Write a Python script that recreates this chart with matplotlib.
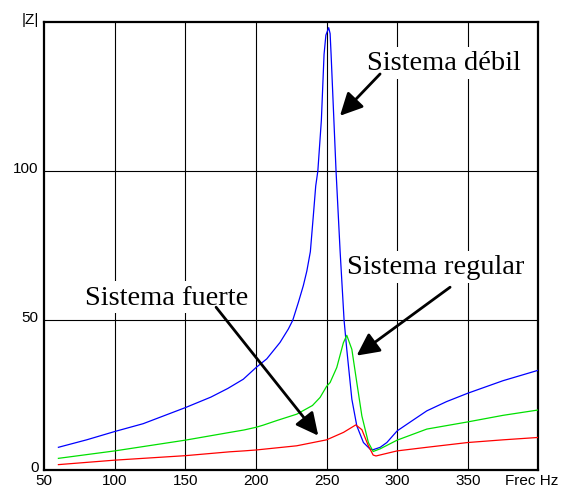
import matplotlib
matplotlib.use("Agg")
import matplotlib.pyplot as plt
import matplotlib.transforms as mtransforms

# ---- data ----
freq_debil = [60, 80, 100, 120, 150, 168, 180, 191, 200, 207.6, 217, 222.9, 226, 230, 233.5, 236,
              238.5, 240.6, 242.3, 243.8, 246.3, 248.2, 249.5, 251.5, 252.5, 253.2, 256.7, 259.6,
              262.4, 264.3, 267.9, 271.4, 276.1, 280.8, 283, 288, 292.7, 300, 310, 321, 335, 350,
              375, 400]
z_debil = [7.5, 10.0, 12.8, 15.4, 20.8, 24.3, 27.2, 30.3, 34.2, 37.1, 42.6, 47.1, 50, 56, 61.6, 66.5,
           73, 85, 95, 100, 117, 139, 145.5, 148, 146, 139, 100, 73,
           50, 40.3, 23.6, 14.7, 9.1, 6.9, 6.7, 7.5, 9.1, 13.0, 16.2, 19.7, 22.8, 25.6,
           29.8, 33.3]

freq_regular = [60, 100, 150, 181.6, 191.5, 200, 205, 215, 228.9, 240, 245.4, 250, 252.5, 257.2,
                261.9, 264.3, 267.9, 271.4, 275, 279.6, 283, 288, 300, 321, 350, 375, 400]
z_regular = [3.8, 6.3, 9.9, 12.5, 13.3, 14.2, 14.9, 16.5, 18.6, 21.5, 24.2, 27.9, 29.2, 34.2,
             42.5, 45, 40.3, 29.2, 18, 9.1, 6.1, 7.0, 9.9, 13.6, 16.0, 18.2, 20.0]

freq_fuerte = [60, 100, 150, 181.6, 191.5, 200, 228.8, 250, 262, 270.7, 275, 279.6, 283, 285, 300,
               321, 350, 375, 400]
z_fuerte = [1.7, 3.2, 4.7, 6.0, 6.3, 6.6, 8.0, 10.0, 12.5, 15.0, 13.4, 8.0, 4.9, 4.6, 6.3,
            7.5, 9.1, 10.0, 10.8]

x_ticks = [50, 100, 150, 200, 250, 300, 350, 400]
x_tick_labels = ["50", "100", "150", "200", "250", "300", "350", "Frec Hz"]
y_ticks = [0, 50, 100, 150]
y_tick_labels = ["0", "50", "100", "|Z|"]

labels = ["Sistema débil", "Sistema regular", "Sistema fuerte"]
label_pos = [(278.6, 136.2), (264.5, 67.9), (78.8, 57.8)]
arrow_tail = [(287.9, 132.5), (337.5, 61.1), (171.7, 54.4)]
arrow_head = [(259.5, 118.5), (271.3, 38.2), (244.1, 11.4)]

# ---- figure ----
fig = plt.figure(figsize=(5.63, 4.89), dpi=100)
ax = fig.add_axes([44.3 / 563, (489 - 470.7) / 489, 494 / 563, 448 / 489])
ax.set_xlim(50, 400)
ax.set_ylim(0, 150)

ax.plot(freq_debil, z_debil, color="#0000ff", lw=0.9, zorder=3)
ax.plot(freq_regular, z_regular, color="#00e000", lw=0.9, zorder=3)
ax.plot(freq_fuerte, z_fuerte, color="#ff0000", lw=0.9, zorder=3)

for x in x_ticks[1:-1]:
    ax.axvline(x, color="black", lw=0.8, zorder=1)
for y in y_ticks[1:-1]:
    ax.axhline(y, color="black", lw=0.8, zorder=1)

for s in ax.spines.values():
    s.set_linewidth(1.6)
    s.set_color("black")

ax.set_xticks(x_ticks)
ax.set_xticklabels(x_tick_labels, family="Liberation Sans", fontsize=11)
ax.set_yticks(y_ticks)
ax.set_yticklabels(y_tick_labels, family="Liberation Sans", fontsize=11)
ax.tick_params(axis="both", length=0)
ax.tick_params(axis="x", pad=2.2)
ax.tick_params(axis="y", pad=4)

up = mtransforms.ScaledTranslation(0, 4.5 / 100, fig.dpi_scale_trans)
for lab in ax.get_yticklabels():
    lab.set_transform(lab.get_transform() + up)
left = mtransforms.ScaledTranslation(-7 / 100, 0, fig.dpi_scale_trans)
xl = ax.get_xticklabels()[-1]
xl.set_transform(xl.get_transform() + left)

for text, (tx, ty) in zip(labels, label_pos):
    ax.text(tx, ty, text, family="Liberation Serif", fontsize=20.5, ha="left", va="center",
            zorder=4, bbox=dict(boxstyle="square,pad=0.12", fc="white", ec="none"))

for (x0, y0), (x1, y1) in zip(arrow_tail, arrow_head):
    ax.annotate("", xy=(x1, y1), xytext=(x0, y0),
                arrowprops=dict(arrowstyle="-|>,head_length=0.8,head_width=0.4",
                                mutation_scale=17, lw=2.0, color="black",
                                shrinkA=0, shrinkB=0),
                zorder=5)

fig.savefig("out.png", dpi=100)
